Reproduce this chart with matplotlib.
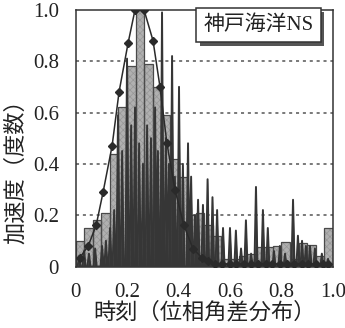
import matplotlib.pyplot as plt
import matplotlib.patheffects as pe
import numpy as np

plt.rcParams["font.family"] = ["Liberation Serif", "Noto Sans CJK JP"]
plt.rcParams["hatch.linewidth"] = 0.5

gray = "#b0b0b0"
dark = "#363636"

# histogram of phase-angle differences, 30 bins on [0, 1]
bin_left = np.arange(30) / 30
bin_heights = [0.10, 0.15, 0.18, 0.21, 0.44, 0.62, 0.78, 1.00, 0.79, 0.70,
               0.59, 0.42, 0.35, 0.20, 0.21, 0.16, 0.12, 0.03, 0.03, 0.04,
               0.05, 0.075, 0.075, 0.08, 0.095, 0.03, 0.09, 0.085, 0.04, 0.15]

# acceleration record (normalised), peaks only
spike_x = [0.014, 0.033, 0.052, 0.076, 0.103, 0.118, 0.134, 0.150, 0.165, 0.181,
           0.200, 0.216, 0.231, 0.247, 0.262, 0.278, 0.293, 0.309, 0.320, 0.336,
           0.351, 0.363, 0.375, 0.386, 0.402, 0.417, 0.437, 0.449, 0.464, 0.476,
           0.495, 0.513, 0.532, 0.550, 0.573, 0.600, 0.623, 0.643, 0.662, 0.682,
           0.701, 0.728, 0.747, 0.771, 0.794, 0.814, 0.845, 0.864, 0.880, 0.895,
           0.911, 0.930, 0.957, 0.981]
spike_h = [0.04, 0.06, 0.05, 0.07, 0.08, 0.10, 0.15, 0.22, 0.59, 0.45,
           0.81, 0.55, 0.62, 0.48, 0.40, 0.55, 0.50, 0.62, 0.45, 0.99,
           0.50, 0.40, 0.82, 0.35, 0.70, 0.40, 0.48, 0.35, 0.20, 0.26,
           0.24, 0.34, 0.27, 0.22, 0.15, 0.15, 0.14, 0.07, 0.18, 0.05,
           0.31, 0.22, 0.15, 0.06, 0.08, 0.05, 0.26, 0.12, 0.10, 0.08,
           0.08, 0.07, 0.05, 0.03]

# fitted distribution curve
curve_x = [0.017, 0.049, 0.080, 0.107, 0.142, 0.169, 0.204, 0.231, 0.266, 0.301,
           0.328, 0.355, 0.386, 0.421, 0.456, 0.490, 0.515, 0.540, 0.570, 0.600,
           0.625, 0.655, 0.680, 0.710, 0.740, 0.765, 0.795, 0.820, 0.850, 0.880,
           0.905, 0.935, 0.960, 0.980]
curve_y = [0.035, 0.08, 0.16, 0.29, 0.47, 0.68, 0.87, 1.00, 1.00, 0.88,
           0.70, 0.48, 0.30, 0.16, 0.07, 0.035, 0.02, 0.01, 0.01, 0.01,
           0.01, 0.01, 0.01, 0.01, 0.01, 0.01, 0.01, 0.01, 0.01, 0.01,
           0.01, 0.01, 0.01, 0.01]

ticks = [0, 0.2, 0.4, 0.6, 0.8, 1.0]
tick_labels = ["0", "0.2", "0.4", "0.6", "0.8", "1.0"]

fig = plt.figure(figsize=(3.45, 3.28), dpi=100)
ax = fig.add_axes([0.219, 0.1875, 0.746, 0.7825])

for y in ticks[1:-1]:
    ax.axhline(y, color="#555555", linewidth=1.1, linestyle=(0, (2, 2.5)), zorder=1)

# stippled fill first, outline on top
ax.bar(bin_left, bin_heights, width=1 / 30, align="edge",
       color=gray, edgecolor="#979797", hatch="xxxxx", linewidth=0, zorder=2)
ax.bar(bin_left, bin_heights, width=1 / 30, align="edge",
       fill=False, edgecolor="#4a4a4a", linewidth=0.9, zorder=2)

# each peak drawn as a narrow spike rising from zero
hw = 0.006
sx = np.ravel([[x - hw, x, x + hw] for x in spike_x])
sy = np.ravel([[0, h, 0] for h in spike_h])
ax.fill_between(sx, 0, sy, color=dark, linewidth=0, zorder=3)
ax.plot(sx, sy, color=dark, linewidth=1.4, zorder=3)

ax.plot(curve_x, curve_y, color="#2a2a2a", linewidth=1.1, marker="D",
        markersize=4.5, zorder=4)

ax.set_xlim(0, 1.0)
ax.set_ylim(0, 1.0)
ax.set_xticks(ticks)
ax.set_xticklabels(tick_labels)
ax.set_yticks(ticks)
ax.set_yticklabels(tick_labels)
ax.tick_params(length=0, labelsize=15, colors="#222222")
ax.tick_params(axis="y", pad=12)
ax.tick_params(axis="x", pad=12)
for s in ax.spines.values():
    s.set_color("#333333")
    s.set_linewidth(1.1)

ax.set_xlabel("時刻（位相角差分布）", fontsize=16, labelpad=0, color="#222222")
ax.set_ylabel("加速度（度数）", fontsize=16, color="#222222")
ax.yaxis.set_label_coords(-0.19, 0.39)

lab = ax.text(0.925, 0.94, "神戸海洋NS", transform=ax.transAxes, fontsize=15,
              ha="right", va="center", color="#222222", zorder=6,
              bbox=dict(boxstyle="square,pad=0.35", facecolor="white",
                        edgecolor="#333333", linewidth=1.1))
lab.get_bbox_patch().set_path_effects(
    [pe.SimplePatchShadow(offset=(2.5, -2.5), shadow_rgbFace="#555555", alpha=1),
     pe.Normal()])

fig.savefig("out.png", dpi=100)
